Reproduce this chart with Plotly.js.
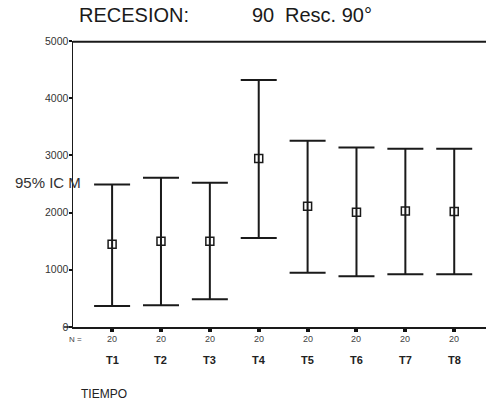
<!DOCTYPE html>
<html>
<head>
<meta charset="utf-8">
<script src="https://cdn.plot.ly/plotly-3.0.1.min.js"></script>
<style>html,body{margin:0;padding:0;background:#fff;}#chart{width:486px;height:403px;}</style>
</head>
<body>
<div id="chart"></div>
<script>
const categories = ["T1","T2","T3","T4","T5","T6","T7","T8"];
const nValues = [20,20,20,20,20,20,20,20];
const means = [1445,1497,1497,2947,2111,2006,2030,2018];
const upper = [2490,2610,2520,4316,3257,3140,3117,3117];
const lower = [368,380,485,1556,947,889,924,924];
const yTicks = [0,1000,2000,3000,4000,5000];

const xIdx = categories.map((c,i)=>i);
const trace = {
  type:'scatter', mode:'markers',
  x: xIdx, y: means,
  marker:{symbol:'square-open', size:8, color:'#1a1a1a', line:{width:1.5,color:'#1a1a1a'}},
  error_y:{type:'data', symmetric:false,
    array: upper.map((u,i)=>u-means[i]),
    arrayminus: means.map((m,i)=>m-lower[i]),
    color:'#1a1a1a', thickness:2, width:18},
  hoverinfo:'skip', cliponaxis:false
};

const W = 413, H = 286, L = 73, T = 41;
const px = v => (v - L) / W;
const py = v => (T + H - v) / H;
const F = 'Liberation Sans, Arial, sans-serif';

const annotations = [
  {text:'RECESION:', xref:'paper', yref:'paper', x:px(77), y:py(15), xanchor:'left', yanchor:'middle', showarrow:false, font:{family:F, size:20, color:'#1a1a1a'}},
  {text:'90', xref:'paper', yref:'paper', x:px(250), y:py(15), xanchor:'left', yanchor:'middle', showarrow:false, font:{family:F, size:20, color:'#1a1a1a'}},
  {text:'Resc. 90°', xref:'paper', yref:'paper', x:px(374), y:py(15), xanchor:'right', yanchor:'middle', showarrow:false, font:{family:F, size:20, color:'#1a1a1a'}},
  {text:'95% IC M', xref:'paper', yref:'paper', x:px(13), y:py(182), xanchor:'left', yanchor:'middle', showarrow:false, font:{family:F, size:15, color:'#333'}},
  {text:'N =', xref:'paper', yref:'paper', x:px(67), y:py(339), xanchor:'left', yanchor:'middle', showarrow:false, font:{family:F, size:8, color:'#444'}},
  {text:'TIEMPO', xref:'paper', yref:'paper', x:px(79), y:py(394), xanchor:'left', yanchor:'middle', showarrow:false, font:{family:F, size:12, color:'#222'}}
];
categories.forEach((c,i)=>{
  annotations.push({text:String(nValues[i]), x:i, xref:'x', yref:'paper', y:py(339), xanchor:'center', yanchor:'middle', showarrow:false, font:{family:F, size:9, color:'#444'}});
  annotations.push({text:'<b>'+c+'</b>', x:i, xref:'x', yref:'paper', y:py(360), xanchor:'center', yanchor:'middle', showarrow:false, font:{family:F, size:11, color:'#222'}});
});

const layout = {
  width:486, height:403,
  margin:{l:73, r:0, t:41, b:76},
  paper_bgcolor:'#fff', plot_bgcolor:'#fff',
  showlegend:false,
  xaxis:{range:[-0.8,7.65], showgrid:false, zeroline:false, showline:true, linecolor:'#1a1a1a', linewidth:1.5,
    tickvals:xIdx, ticktext:categories.map(()=>''), ticks:'outside', ticklen:3, tickwidth:4, tickcolor:'#111', fixedrange:true},
  yaxis:{range:[0,5000], showgrid:false, zeroline:false, showline:true, linecolor:'#1a1a1a', linewidth:1.5,
    tickvals:yTicks, ticktext:yTicks.map(String), ticks:'outside', ticklen:3, tickwidth:2, tickcolor:'#111',
    ticklabelstandoff:-2,
    tickfont:{family:F, size:10.5, color:'#333'}, fixedrange:true},
  shapes:[
    {type:'line', xref:'paper', yref:'paper', x0:0, x1:1, y0:0.997, y1:0.997, layer:'above', line:{color:'#1a1a1a', width:2}},
    {type:'line', xref:'paper', yref:'paper', x0:px(64), x1:0, y0:0, y1:0, line:{color:'#1a1a1a', width:1.5}}
  ],
  annotations: annotations
};
Plotly.newPlot('chart',[trace],layout,{staticPlot:true});
</script>
</body>
</html>
